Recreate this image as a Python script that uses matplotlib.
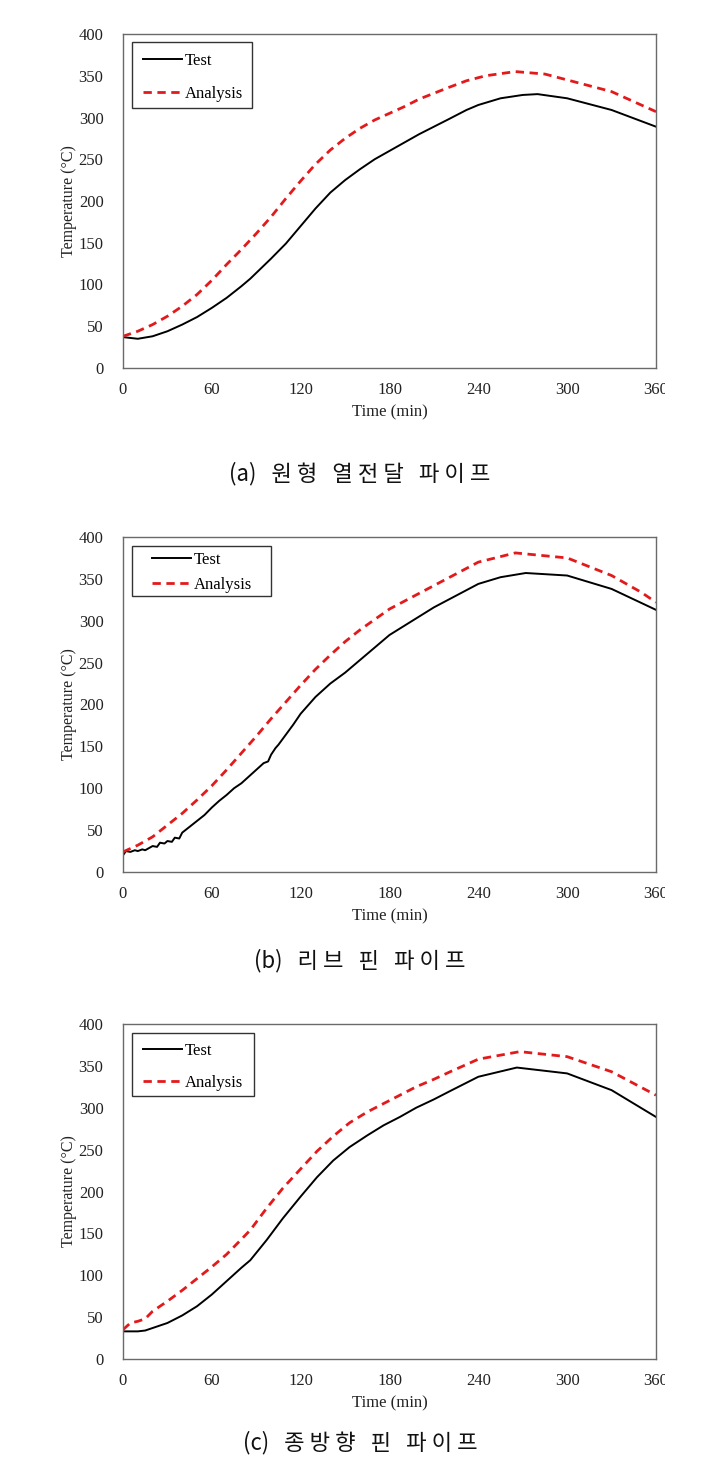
import numpy as np
import matplotlib
matplotlib.use("Agg")
import matplotlib.pyplot as plt
from matplotlib.patches import Rectangle
from matplotlib.transforms import Bbox, TransformedBbox

plt.rcParams["font.family"] = ["Liberation Serif", "DejaVu Serif"]

# (a) circular heat transfer pipe
t_a_test = [0, 10, 20, 30, 40, 50, 60, 70, 80, 86, 100, 110, 120, 130, 140, 150, 160, 170, 180, 190,
            200, 210, 220, 232, 240, 255, 270, 280, 300, 330, 360]
test_a = [37, 35, 38, 44, 52, 61, 72, 84, 98, 107, 131, 149, 170, 191, 210, 225, 238, 250, 260, 270,
          280, 289, 298, 309, 315, 323, 327, 328, 323, 309, 289]
t_a_ana = [0, 10, 20, 30, 40, 50, 60, 70, 80, 90, 100, 110, 120, 130, 140, 150, 160, 170, 180, 190,
           200, 210, 220, 232, 245, 265, 285, 300, 330, 360]
ana_a = [38, 44, 52, 62, 74, 88, 105, 124, 142, 161, 181, 203, 224, 244, 261, 275, 287, 297, 305, 313,
         322, 329, 336, 344, 350, 355, 352, 345, 331, 307]

# (b) rib fin pipe
t_b_test = [0, 2, 5, 8, 10, 13, 15, 18, 20, 23, 25, 28, 30, 33, 35, 38, 40, 45, 50, 55, 60, 65, 70, 75,
            80, 85, 90, 95, 98, 100, 103, 105, 110, 115, 120, 130, 140, 150, 160, 180, 210, 240, 255,
            272, 300, 330, 360]
test_b = [20, 25, 24, 26, 25, 27, 26, 29, 31, 30, 35, 34, 37, 36, 41, 40, 47, 54, 61, 68, 77, 85, 92, 100,
          106, 114, 122, 130, 132, 140, 148, 152, 164, 176, 189, 209, 225, 238, 253, 283, 316, 344, 352,
          357, 354, 338, 313]
t_b_ana = [0, 10, 20, 30, 40, 50, 60, 70, 80, 90, 100, 110, 120, 130, 140, 150, 160, 180, 210, 240, 265,
           300, 330, 350, 360]
ana_b = [24, 32, 42, 56, 70, 86, 103, 122, 142, 162, 183, 203, 223, 242, 259, 275, 289, 314, 342, 370, 381,
         375, 354, 334, 322]

# (c) longitudinal fin pipe
t_c_test = [0, 10, 15, 20, 30, 40, 50, 60, 70, 80, 86, 97, 108, 120, 131, 142, 153, 165, 176, 187, 198,
            210, 221, 240, 266, 300, 330, 360]
test_c = [33, 33, 34, 37, 43, 52, 63, 77, 93, 109, 118, 142, 168, 194, 217, 237, 253, 267, 279, 289, 300,
          310, 320, 337, 348, 341, 321, 289]
t_c_ana = [0, 5, 10, 15, 20, 30, 40, 50, 60, 70, 80, 86, 97, 108, 120, 131, 142, 153, 165, 176, 187, 198,
           210, 221, 240, 268, 300, 330, 360]
ana_c = [35, 43, 45, 48, 57, 69, 82, 96, 110, 125, 143, 154, 180, 204, 227, 248, 266, 282, 295, 305, 315,
         325, 334, 343, 358, 367, 361, 343, 315]

captions = ["(a)   원 형   열 전 달   파 이 프", "(b)   리 브   핀   파 이 프", "(c)   종 방 향   핀   파 이 프"]
x_ticks = [0, 60, 120, 180, 240, 300, 360]
y_ticks = [0, 50, 100, 150, 200, 250, 300, 350, 400]

panels = [
    (t_a_test, test_a, t_a_ana, ana_a),
    (t_b_test, test_b, t_b_ana, ana_b),
    (t_c_test, test_c, t_c_ana, ana_c),
]

W, H = 715, 1472
fig = plt.figure(figsize=(W / 100, H / 100), dpi=100)

# layout in pixels
boxes = [(34, 368), (537, 872), (1024, 1359)]          # axes top, bottom
caption_y = [474, 961, 1443]
legend_frames = [(132, 42, 252, 108), (132, 546, 271, 596), (132, 1033, 254, 1096)]
legend_anchor = [(143, 53), (152, 552), (143, 1043)]   # handle start, first row top
legend_spacing = [1.0, 0.55, 0.95]
left, right = 123, 656

clip = TransformedBbox(Bbox([[0, 0], [665 / W, 1]]), fig.transFigure)

for i, (tt, tv, ta, av) in enumerate(panels):
    top, bot = boxes[i]
    ax = fig.add_axes([left / W, 1 - bot / H, (right - left) / W, (bot - top) / H])
    ax.plot(tt, tv, color="black", lw=1.4, label="Test")
    ax.plot(ta, av, color="#e31a1c", lw=2.0, dashes=(3.0, 2.0), label="Analysis")
    ax.set_xlim(0, 360)
    ax.set_ylim(0, 400)
    ax.set_xticks(x_ticks)
    ax.set_yticks(y_ticks)
    ax.tick_params(length=0, labelsize=12, colors="#222222")
    ax.tick_params(axis="y", pad=14)
    ax.tick_params(axis="x", pad=10)
    for s in ax.spines.values():
        s.set_color("#6a6a6a")
        s.set_linewidth(1.0)
    ax.set_xlabel("Time (min)", fontsize=12, labelpad=5, color="#222222")
    ax.set_ylabel("Temperature (\u00b0C)", fontsize=11.5, labelpad=1, color="#222222")
    for lab in ax.get_xticklabels():
        lab.set_clip_box(clip)
        lab.set_clip_on(True)

    lx, ly = legend_anchor[i]
    ax.legend(loc="upper left", bbox_to_anchor=(lx / W, 1 - ly / H),
              bbox_transform=fig.transFigure, borderaxespad=0, borderpad=0,
              fontsize=12, handlelength=2.35, handletextpad=0.15,
              labelspacing=legend_spacing[i], frameon=False)
    fx0, fy0, fx1, fy1 = legend_frames[i]
    fig.add_artist(Rectangle((fx0 / W, 1 - fy1 / H), (fx1 - fx0) / W, (fy1 - fy0) / H,
                             transform=fig.transFigure, fill=False,
                             edgecolor="#333333", linewidth=1.0))

    fig.text(360 / W, 1 - caption_y[i] / H, captions[i], ha="center", va="center",
             fontsize=16, family=["Noto Sans CJK KR", "DejaVu Sans"],
             color="#111111")

fig.savefig("out.png", dpi=100, facecolor="white")
